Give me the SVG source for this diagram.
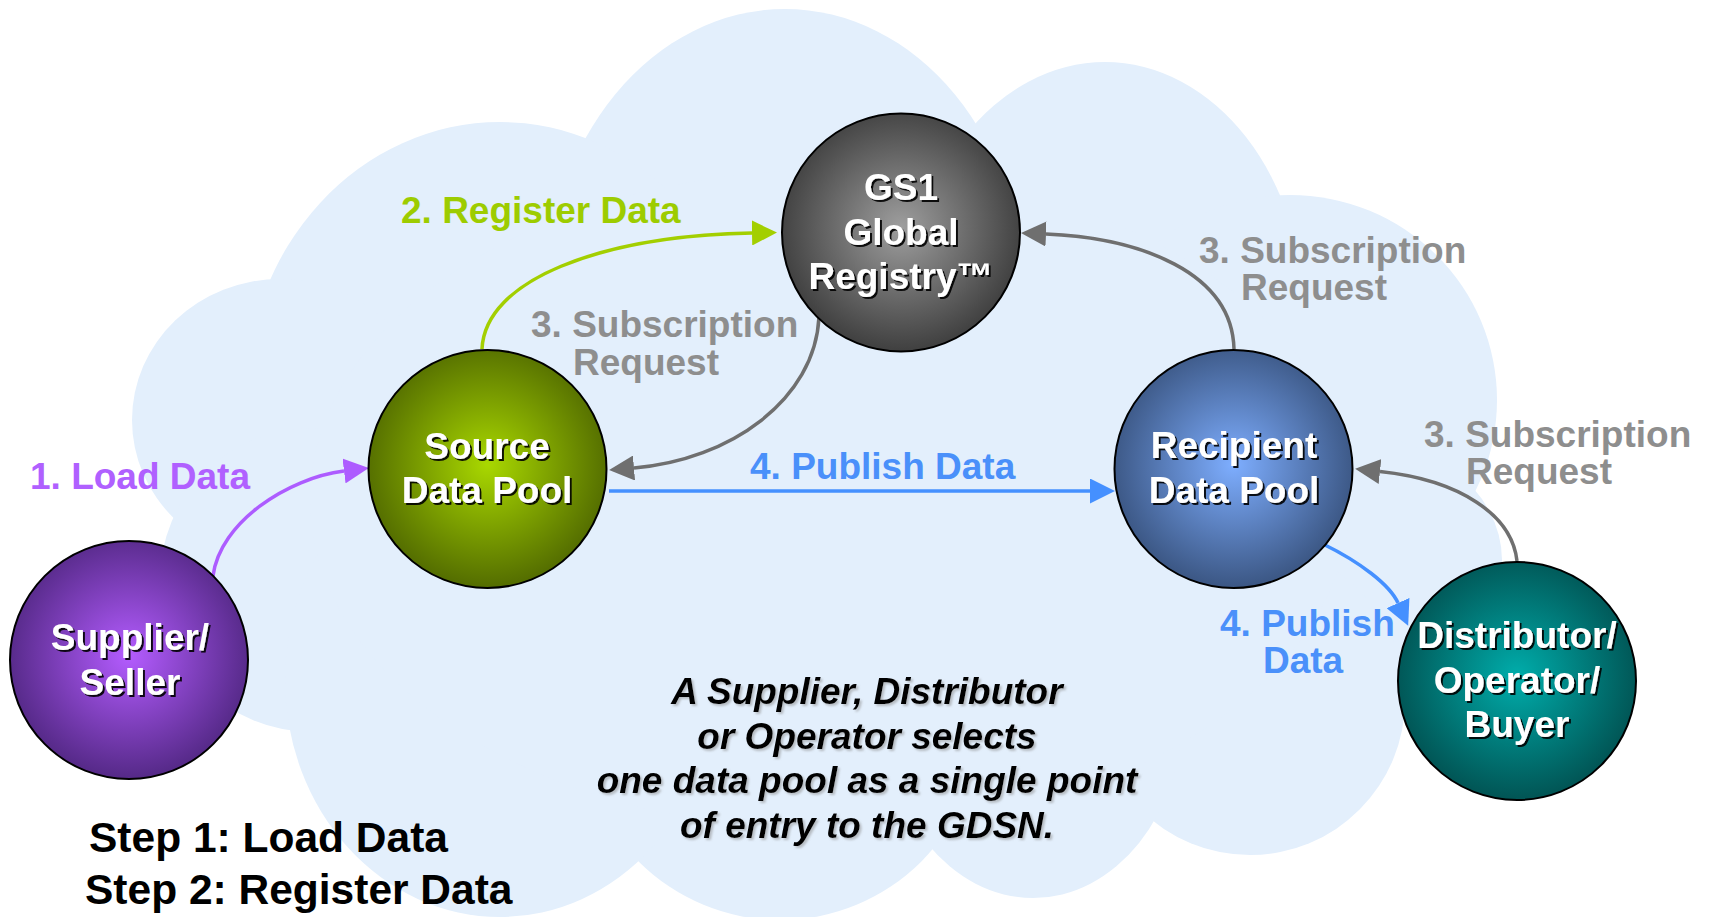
<svg xmlns="http://www.w3.org/2000/svg" width="1710" height="917" viewBox="0 0 1710 917">
<style>
.cloud{fill:#e3effc}
.node{stroke:#000;stroke-width:2}
.nl{font-family:"Liberation Sans",Arial,sans-serif;font-weight:bold;font-size:37px;fill:#fff;text-anchor:middle;filter:url(#ts)}
.el{font-family:"Liberation Sans",Arial,sans-serif;font-weight:bold;font-size:37px}
.con{fill:none;stroke-width:3.5}
.note{font-family:"Liberation Sans",Arial,sans-serif;font-weight:bold;font-style:italic;font-size:37px;fill:#000;text-anchor:middle;filter:url(#ls)}
.step{font-family:"Liberation Sans",Arial,sans-serif;font-weight:bold;font-size:42.5px;fill:#000}
</style>
<defs>
<filter id="ts" x="-10%" y="-20%" width="130%" height="150%"><feDropShadow dx="2" dy="2" stdDeviation="0.6" flood-color="#000" flood-opacity="0.9"/></filter>
<filter id="ls" x="-10%" y="-20%" width="130%" height="150%"><feDropShadow dx="2" dy="2" stdDeviation="0.8" flood-color="#888" flood-opacity="0.5"/></filter>
<radialGradient id="gGray" cx="50%" cy="48%" r="55%"><stop offset="0" stop-color="#9e9e9e"/><stop offset="1" stop-color="#3a3a3a"/></radialGradient>
<radialGradient id="gGreen" cx="50%" cy="48%" r="55%"><stop offset="0" stop-color="#a9d800"/><stop offset="1" stop-color="#4e6600"/></radialGradient>
<radialGradient id="gBlue" cx="50%" cy="48%" r="55%"><stop offset="0" stop-color="#7eaeff"/><stop offset="1" stop-color="#37517c"/></radialGradient>
<radialGradient id="gPurple" cx="50%" cy="48%" r="55%"><stop offset="0" stop-color="#b45cff"/><stop offset="1" stop-color="#4f2680"/></radialGradient>
<radialGradient id="gTeal" cx="50%" cy="48%" r="55%"><stop offset="0" stop-color="#00adab"/><stop offset="1" stop-color="#014f4f"/></radialGradient>
<marker id="aPurple" viewBox="0 -12.5 25 25" refX="0" refY="0" markerWidth="25" markerHeight="25" markerUnits="userSpaceOnUse" orient="auto"><path d="M0,-12.5 L25,0 L0,12.5 z" fill="#ad5cff"/></marker>
<marker id="aGreen" viewBox="0 -12.5 25 25" refX="0" refY="0" markerWidth="25" markerHeight="25" markerUnits="userSpaceOnUse" orient="auto"><path d="M0,-12.5 L25,0 L0,12.5 z" fill="#a3cf00"/></marker>
<marker id="aGray" viewBox="0 -12.5 25 25" refX="0" refY="0" markerWidth="25" markerHeight="25" markerUnits="userSpaceOnUse" orient="auto"><path d="M0,-12.5 L25,0 L0,12.5 z" fill="#6f6f6f"/></marker>
<marker id="aBlue" viewBox="0 -12.5 25 25" refX="0" refY="0" markerWidth="25" markerHeight="25" markerUnits="userSpaceOnUse" orient="auto"><path d="M0,-12.5 L25,0 L0,12.5 z" fill="#4590ff"/></marker>
</defs>
<rect width="1710" height="917" fill="#fff"/>
<g id="cloud" class="cloud">
<ellipse cx="785" cy="300" rx="240" ry="291"/>
<ellipse cx="1105" cy="320" rx="200" ry="258"/>
<ellipse cx="500" cy="400" rx="255" ry="278"/>
<ellipse cx="280" cy="420" rx="148" ry="141"/>
<circle cx="312" cy="580" r="152"/>
<ellipse cx="1290" cy="400" rx="207" ry="205"/>
<ellipse cx="1330" cy="560" rx="172" ry="130"/>
<circle cx="1250" cy="700" r="155"/>
<ellipse cx="1033" cy="710" rx="150" ry="188"/>
<circle cx="780" cy="720" r="200"/>
<ellipse cx="500" cy="680" rx="215" ry="237"/>
<ellipse cx="830" cy="500" rx="520" ry="330"/>
</g>
<g id="connectors">
<path class="con" stroke="#ad5cff" d="M213,576 C220,522 288,478 344,471" marker-end="url(#aPurple)"/>
<path class="con" stroke="#a3cf00" d="M482,349 C485,280 600,236 752,233" marker-end="url(#aGreen)"/>
<path class="con" stroke="#6f6f6f" d="M819,317 C815,400 730,460 634,468" marker-end="url(#aGray)"/>
<path class="con" stroke="#4590ff" d="M609,491 L1090,491" marker-end="url(#aBlue)"/>
<path class="con" stroke="#6f6f6f" d="M1234,349 C1232,272 1140,238 1046,234" marker-end="url(#aGray)"/>
<path class="con" stroke="#6f6f6f" d="M1517,561 C1512,515 1460,480 1380,471.5" marker-end="url(#aGray)"/>
<path class="con" stroke="#4590ff" d="M1323,544 C1360,562 1390,585 1398,603" marker-end="url(#aBlue)"/>
<text class="el" fill="#b060ff" x="30" y="489">1. Load Data</text>
<text class="el" fill="#9dcc00" x="401" y="223">2. Register Data</text>
<text class="el" fill="#8e8e8e" x="531" y="337">3. Subscription<tspan x="573" y="375">Request</tspan></text>
<text class="el" fill="#8e8e8e" x="1199" y="263">3. Subscription<tspan x="1241" y="300">Request</tspan></text>
<text class="el" fill="#8e8e8e" x="1424" y="447">3. Subscription<tspan x="1466" y="484">Request</tspan></text>
<text class="el" fill="#4a90fa" x="750" y="479">4. Publish Data</text>
<text class="el" fill="#4a90fa" x="1220" y="636">4. Publish<tspan x="1263" y="673">Data</tspan></text>
</g>
<g id="gs1">
<circle class="node" cx="901" cy="232.5" r="119" fill="url(#gGray)"/>
<text class="nl" x="901" y="200">GS1<tspan x="901" y="245">Global</tspan><tspan x="901" y="289">Registry™</tspan></text>
</g>
<g id="source">
<circle class="node" cx="487.5" cy="469" r="119" fill="url(#gGreen)"/>
<text class="nl" x="487" y="459">Source<tspan x="487" y="503">Data Pool</tspan></text>
</g>
<g id="recipient">
<circle class="node" cx="1233.5" cy="469" r="119" fill="url(#gBlue)"/>
<text class="nl" x="1234" y="458">Recipient<tspan x="1234" y="503">Data Pool</tspan></text>
</g>
<g id="supplier">
<circle class="node" cx="129" cy="660" r="119" fill="url(#gPurple)"/>
<text class="nl" x="130" y="650">Supplier/<tspan x="130" y="695">Seller</tspan></text>
</g>
<g id="distributor">
<circle class="node" cx="1517" cy="681" r="119" fill="url(#gTeal)"/>
<text class="nl" x="1517" y="648">Distributor/<tspan x="1517" y="693">Operator/</tspan><tspan x="1517" y="737">Buyer</tspan></text>
</g>
<g id="note">
<text class="note" x="867" y="704">A Supplier, Distributor</text>
<text class="note" x="867" y="749">or Operator selects</text>
<text class="note" x="867" y="793">one data pool as a single point</text>
<text class="note" x="867" y="838">of entry to the GDSN.</text>
</g>
<g id="steps">
<text class="step" x="89" y="852">Step 1: Load Data</text>
<text class="step" x="85" y="904">Step 2: Register Data</text>
</g>
</svg>
